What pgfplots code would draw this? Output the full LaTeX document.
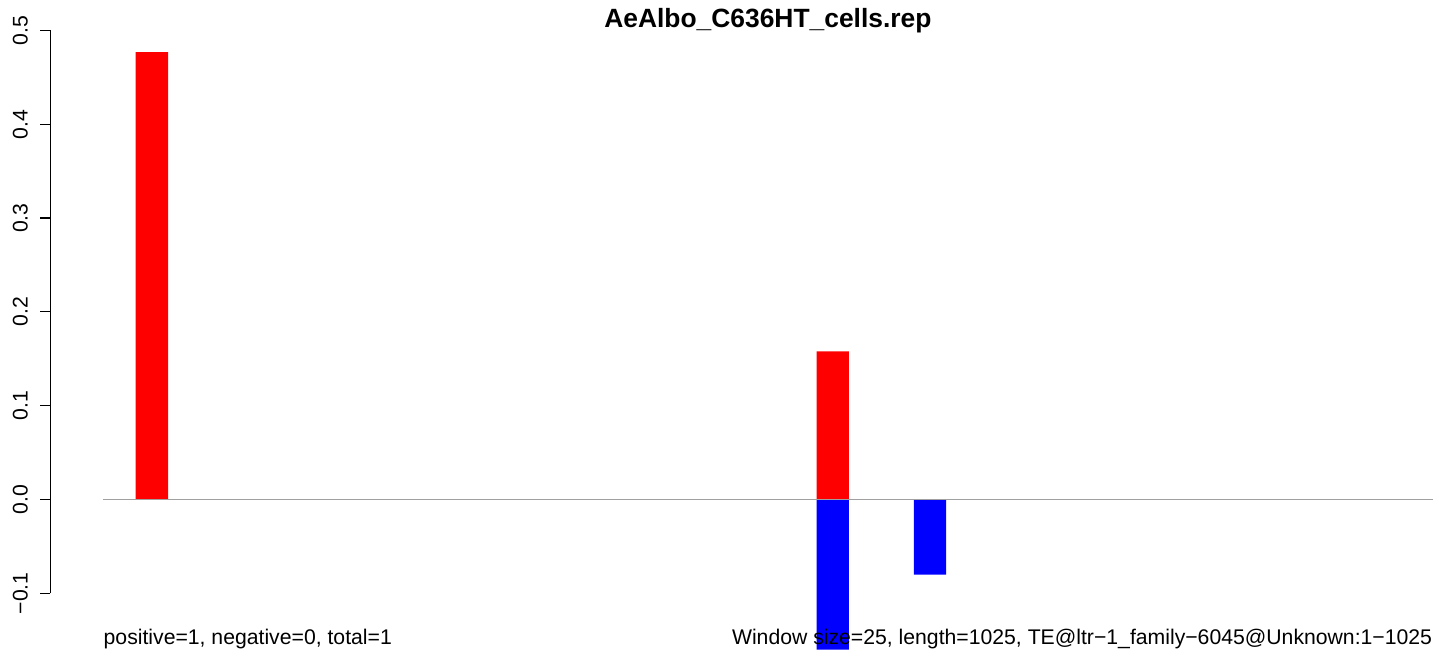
\documentclass[border=0pt]{standalone}
\usepackage{fontspec}
\setmainfont{Liberation Sans}
\usepackage{pgfplots}
\pgfplotsset{compat=1.18}
\definecolor{rred}{RGB}{255,0,0}
\definecolor{bblue}{RGB}{0,0,255}
\definecolor{zline}{RGB}{160,160,160}

% windows of 25 bp along a 1025 bp element, 41 windows
\begin{document}
\begin{tikzpicture}
\begin{axis}[
    scale only axis,
    width=696.85pt, height=330.5pt,
    xmin=-1.635, xmax=41.355,
    ymin=-0.1722, ymax=0.5325,
    clip=false,
    axis x line=none,
    axis y line*=left,
    y axis line style={draw=none},
    ytick={-0.1,0,0.1,0.2,0.3,0.4,0.5},
    yticklabels={−0.1,0.0,0.1,0.2,0.3,0.4,0.5},
    tick align=outside,
    major tick length=5pt,
    tick style={black, line width=0.6pt},
    yticklabel style={font=\fontsize{10.6}{12}\selectfont, rotate=90, anchor=south, inner sep=0pt},
    yticklabel shift=6pt,
]
\path (axis cs:-3.186,-0.1722) rectangle (axis cs:41.355,0.5325);
\draw[black, line width=0.6pt] (axis cs:-1.635,-0.1) -- (axis cs:-1.635,0.5);
% positive strand
\addplot[ybar, bar width=1, bar shift=0pt, fill=rred, draw=none]
    coordinates {(1.5,0.477) (22.5,0.158)};
% negative strand
\addplot[ybar, bar width=1, bar shift=0pt, fill=bblue, draw=none]
    coordinates {(22.5,-0.160) (25.5,-0.080)};
\draw[zline, line width=0.6pt] (axis cs:0,0) -- (axis cs:41,0);
\node[anchor=base, font=\fontsize{13.2}{15}\selectfont\bfseries] at (axis cs:20.5,0.5037) {AeAlbo\_C636HT\_cells.rep};
\node[anchor=base west, inner sep=0pt, font=\fontsize{10.6}{12}\selectfont] at (axis cs:0,-0.155) {positive=1, negative=0, total=1};
\node[anchor=base east, inner sep=0pt, font=\fontsize{10.6}{12}\selectfont] at (axis cs:41,-0.155) {Window size=25, length=1025, TE@ltr−1\_family−6045@Unknown:1−1025};
\end{axis}
\end{tikzpicture}
\end{document}
